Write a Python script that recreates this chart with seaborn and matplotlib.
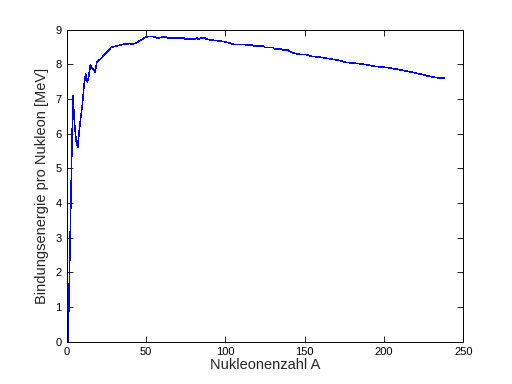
import matplotlib
matplotlib.use("Agg")
import matplotlib.pyplot as plt
import seaborn as sns
import pandas as pd

# Mass number A and binding energy per nucleon [MeV]
mass_number = [1, 4, 5, 6, 7, 8, 9, 10, 11, 12, 13, 14, 15, 16, 17, 18, 19, 20,
               22, 24, 25, 27, 28, 32, 37, 40, 41, 44, 47, 50, 52, 55, 57, 58,
               60, 63, 64, 74, 75, 81, 82, 83, 85, 87, 88, 92, 96, 100, 103, 105,
               112, 113, 117, 118, 124, 125, 130, 131, 135, 136, 139, 141, 143,
               147, 151, 155, 161, 166, 170, 173, 176, 183, 189, 195, 202, 207,
               212, 217, 221, 225, 229, 233, 238]
binding_energy = [0.0, 7.1, 6.3, 5.8, 5.6, 6.1, 6.5, 6.85, 7.4, 7.72, 7.5, 7.65,
                  7.98, 7.9, 7.85, 7.78, 8.05, 8.1, 8.18, 8.3, 8.33, 8.42, 8.49,
                  8.54, 8.59, 8.6, 8.58, 8.62, 8.71, 8.79, 8.81, 8.8, 8.76, 8.76,
                  8.79, 8.79, 8.76, 8.76, 8.73, 8.73, 8.76, 8.73, 8.76, 8.76, 8.73,
                  8.7, 8.68, 8.65, 8.61, 8.58, 8.58, 8.56, 8.56, 8.53, 8.53, 8.49,
                  8.49, 8.45, 8.45, 8.42, 8.42, 8.37, 8.33, 8.29, 8.28, 8.23, 8.2,
                  8.16, 8.13, 8.1, 8.06, 8.03, 7.99, 7.94, 7.91, 7.87, 7.83, 7.78,
                  7.74, 7.7, 7.65, 7.62, 7.6]

x_ticks = [0, 50, 100, 150, 200, 250]
y_ticks = [0, 1, 2, 3, 4, 5, 6, 7, 8, 9]

df = pd.DataFrame({"A": mass_number, "B": binding_energy})

sns.set_style("ticks")
plt.rcParams["font.family"] = ["Liberation Sans", "DejaVu Sans"]

fig = plt.figure(figsize=(5.12, 3.84), dpi=100, facecolor="white")
ax = fig.add_axes([0.13, 0.11, 0.775, 0.8125])

sns.lineplot(data=df, x="A", y="B", color="#0000ff", linewidth=0.4,
             estimator=None, sort=False, antialiased=False, ax=ax)

ax.set_xlim(0, 250)
ax.set_ylim(0, 9)
ax.set_xticks(x_ticks)
ax.set_yticks(y_ticks)
ax.tick_params(direction="in", length=4, width=0.6, labelsize=8,
               top=True, right=True, colors="black")
for s in ax.spines.values():
    s.set_visible(True)
    s.set_linewidth(0.7)
    s.set_color("black")

ax.set_xlabel("Nukleonenzahl A", fontsize=10.5, labelpad=1)
ax.set_ylabel("Bindungsenergie pro Nukleon [MeV]", fontsize=10.5, labelpad=5)

fig.savefig("out.png", dpi=100, facecolor="white")
